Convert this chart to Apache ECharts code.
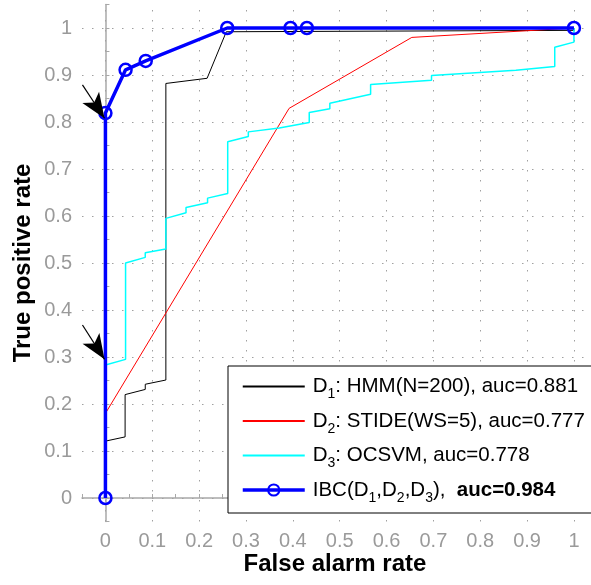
<!DOCTYPE html>
<html>
<head>
<meta charset="utf-8">
<script src="https://cdn.jsdelivr.net/npm/echarts@6/dist/echarts.min.js"></script>
<style>html,body{margin:0;padding:0;background:#fff}#chart{width:591px;height:585px}</style>
</head>
<body>
<div id="chart"></div>
<script>
// ROC curves: [false alarm rate, true positive rate]
const hmmRoc = [[0,0.121],[0.042,0.13],[0.042,0.22],[0.085,0.231],[0.085,0.242],[0.129,0.251],[0.129,0.882],[0.217,0.893],[0.258,0.992],[0.262,0.995],[1,0.995],[1,1]];
const stideRoc = [[0,0.18],[0.392,0.829],[0.654,0.98],[1,1]];
const ocsvmRoc = [[0,0.283],[0.043,0.295],[0.043,0.5],[0.085,0.512],[0.085,0.522],[0.129,0.53],[0.129,0.595],[0.172,0.607],[0.172,0.618],[0.218,0.628],[0.218,0.638],[0.261,0.648],[0.261,0.758],[0.305,0.769],[0.305,0.779],[0.371,0.787],[0.435,0.799],[0.435,0.82],[0.479,0.828],[0.479,0.84],[0.566,0.859],[0.566,0.88],[0.696,0.889],[0.696,0.899],[0.876,0.91],[0.959,0.918],[0.959,0.959],[1,0.97],[1,1]];
const ibcRoc = [[0,0],[0,0.819],[0.043,0.911],[0.086,0.93],[0.26,1],[0.395,1],[0.43,1],[1,1]];

const seriesNames = ["D1: HMM(N=200), auc=0.881", "D2: STIDE(WS=5), auc=0.777", "D3: OCSVM, auc=0.778", "IBC(D1,D2,D3), auc=0.984"];
const legendRich = [
  "{n|D}{s|1}{n|: HMM(N=200), auc=0.881}",
  "{n|D}{s|2}{n|: STIDE(WS=5), auc=0.777}",
  "{n|D}{s|3}{n|: OCSVM, auc=0.778}",
  "{n|IBC(D}{s|1}{n|,D}{s|2}{n|,D}{s|3}{n|),  }{b|auc=0.984}"
];
const gridTicks = [0, 0.1, 0.2, 0.3, 0.4, 0.5, 0.6, 0.7, 0.8, 0.9, 1];
// arrows pointing at the two IBC operating points (end = arrow tip)
const arrowLines = [[[-0.049, 0.879], [-0.002, 0.808]], [[-0.049, 0.368], [-0.002, 0.295]]];

const font = "'Liberation Sans', Arial, sans-serif";
const tickLabel = v => {
  const h = Math.round(v * 100);
  return h >= 0 && h <= 100 && h % 10 === 0 ? String(h / 100) : "";
};
const axisBase = {
  type: "value",
  interval: 0.05,
  axisLine: { show: true, lineStyle: { color: "#a8a8a8", width: 1.5 } },
  axisTick: { show: true, inside: true, length: 4, lineStyle: { color: "#a8a8a8" } },
  axisLabel: { formatter: tickLabel, color: "#9a9a9a", fontSize: 20, fontFamily: font, margin: 10 },
  splitLine: { show: false },
  nameLocation: "middle",
  nameMoveOverlap: false,
  nameTextStyle: { color: "#000", fontSize: 24, fontWeight: "bold", fontFamily: font }
};

const chart = echarts.init(document.getElementById("chart"));
chart.setOption({
  animation: false,
  grid: { left: 82, top: 4.5, width: 507, height: 517 },
  xAxis: { ...axisBase, min: -0.05, max: 1.03, name: "False alarm rate", nameGap: 31 },
  yAxis: { ...axisBase, min: -0.05, max: 1.05, name: "True positive rate", nameGap: 47 },
  legend: {
    data: seriesNames.map((name, i) => i === 3
      ? { name, lineStyle: { width: 3.5 } }
      : { name, itemStyle: { opacity: 0 } }),
    orient: "vertical",
    left: 228, top: 366,
    padding: [10, 13, 8, 13],
    itemWidth: 62, itemHeight: 14, itemGap: 9,
    backgroundColor: "#fff", borderColor: "#000", borderWidth: 1, borderRadius: 0,
    formatter: name => legendRich[seriesNames.indexOf(name)],
    textStyle: {
      color: "#000", fontFamily: font, padding: [0, 0, 0, 3],
      rich: {
        n: { fontSize: 20.5, fontFamily: font, color: "#000" },
        s: { fontSize: 14, fontFamily: font, color: "#000", padding: [16, 0, 0, 0] },
        b: { fontSize: 20.5, fontFamily: font, color: "#000", fontWeight: "bold" }
      }
    }
  },
  series: [
    {
      name: seriesNames[0], type: "line", data: hmmRoc, symbol: "none", z: 2,
      lineStyle: { color: "#000", width: 1 }, itemStyle: { color: "#000" },
      markLine: {
        silent: true, symbol: ["none", "arrow"], z: 6,
        label: { show: false },
        lineStyle: { color: "#000", type: "solid", width: 1.2 },
        itemStyle: { color: "#000" },
        data: arrowLines.map(([a, b]) => [{ coord: a }, { coord: b, symbolSize: [15, 25] }])
      }
    },
    { name: seriesNames[1], type: "line", data: stideRoc, symbol: "none", lineStyle: { color: "#ff0000", width: 1 }, itemStyle: { color: "#ff0000" }, z: 2 },
    {
      name: seriesNames[2], type: "line", data: ocsvmRoc, symbol: "none", z: 2,
      lineStyle: { color: "#00ffff", width: 1.5 }, itemStyle: { color: "#00ffff" },
      markLine: {
        silent: true, symbol: "none", z: 1, label: { show: false },
        lineStyle: { color: "#a0a0a0", type: [1.5, 8.5], width: 1 },
        data: gridTicks.map(v => ({ xAxis: v })).concat(gridTicks.map(v => ({ yAxis: v })))
      }
    },
    {
      name: seriesNames[3], type: "line", data: ibcRoc, z: 3,
      symbol: "circle", symbolSize: 12, showSymbol: true, showAllSymbol: true,
      lineStyle: { color: "#0000ff", width: 3.5 },
      itemStyle: { color: "rgba(0,0,0,0)", borderColor: "#0000ff", borderWidth: 2.5 }
    }
  ]
});
</script>
</body>
</html>
